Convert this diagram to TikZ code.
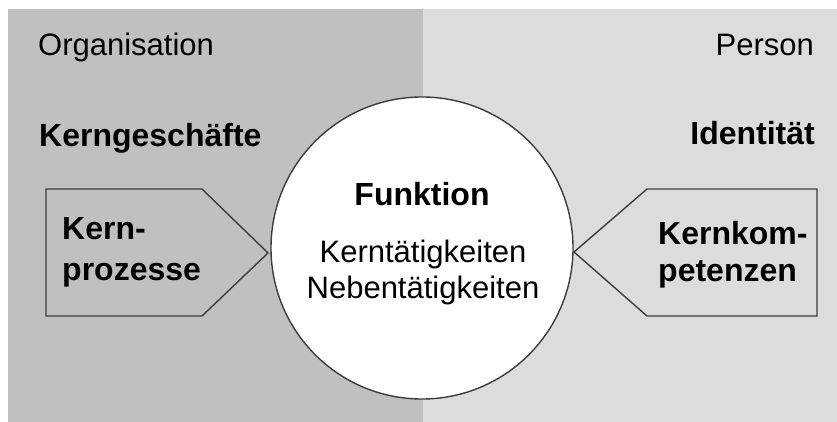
\documentclass[tikz,border=0pt]{standalone}
\usepackage{fontspec}
\setmainfont{Liberation Sans}
\definecolor{leftgray}{RGB}{192,192,192}
\definecolor{rightgray}{RGB}{220,220,220}
\definecolor{edgegray}{RGB}{60,60,60}
\begin{document}
\begin{tikzpicture}[x=1pt,y=-1pt,
  txt/.style={inner sep=0pt,font=\fontsize{31}{36}\selectfont},
  btxt/.style={inner sep=0pt,font=\fontsize{32}{36}\selectfont\bfseries},
  outline/.style={draw=edgegray,line width=1.4pt,line join=miter}]
\useasboundingbox (0,0) rectangle (837,422);
\fill[white] (0,0) rectangle (837,422);
\fill[leftgray] (8,9) rectangle (423,422);
\fill[rightgray] (423,9) rectangle (837,422);
% pentagons
\draw[outline,fill=leftgray] (46,189) -- (202,189) -- (268,253) -- (202,316) -- (46,316) -- cycle;
\draw[outline,fill=rightgray] (817,189) -- (647,189) -- (574,252) -- (647,316) -- (817,316) -- cycle;
% circle
\node[circle,draw=edgegray,line width=1.4pt,fill=white,minimum size=302pt,inner sep=0pt] (func) at (422,248) {};
% labels
\node[txt,anchor=base west] (org) at (38,56) {Organisation};
\node[btxt,anchor=base west] (kg) at (39,147) {Kerngeschäfte};
\node[txt,anchor=base east] (pers) at (814,56) {Person};
\node[btxt,anchor=base east] (ident) at (815,145) {Identität};
\node[btxt,anchor=base west] (kp1) at (62,239) {Kern-};
\node[btxt,anchor=base west] (kp2) at (62,280) {prozesse};
\node[btxt,anchor=base west] (kk1) at (658,244) {Kernkom-};
\node[btxt,anchor=base west] (kk2) at (658,281) {petenzen};
\node[btxt,anchor=base] (fk) at (422,205) {Funktion};
\node[txt,anchor=base] (kt) at (423,262) {Kerntätigkeiten};
\node[txt,anchor=base] (nt) at (423,298) {Nebentätigkeiten};
\end{tikzpicture}
\end{document}
